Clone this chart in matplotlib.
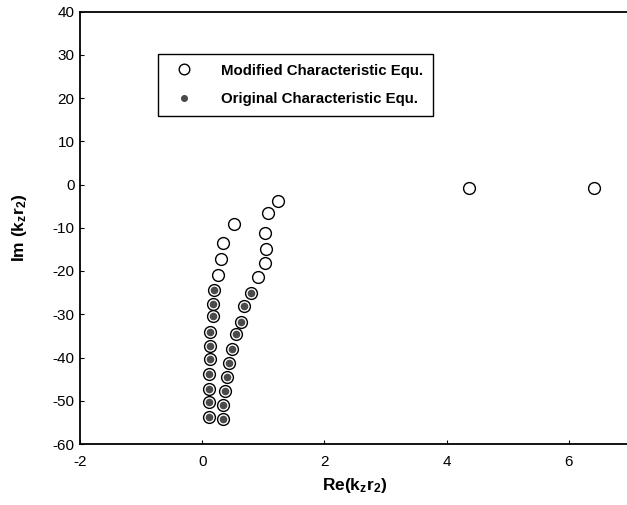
import matplotlib
matplotlib.use("Agg")
import matplotlib.pyplot as plt

plt.rcParams['font.family'] = ['Liberation Sans', 'DejaVu Sans']
plt.rcParams['axes.unicode_minus'] = False
plt.rcParams['mathtext.fontset'] = 'custom'
plt.rcParams['mathtext.rm'] = 'Liberation Sans:bold'
plt.rcParams['mathtext.it'] = 'Liberation Sans:bold'
plt.rcParams['mathtext.bf'] = 'Liberation Sans:bold'

# roots of the modified characteristic equation: two branches plus two isolated roots
re_branch1 = [0.52, 0.34, 0.30, 0.25, 0.20, 0.17, 0.17, 0.13, 0.13, 0.13, 0.11, 0.11, 0.11, 0.11]
im_branch1 = [-9.15, -13.5, -17.2, -21.0, -24.3, -27.6, -30.5, -34.1, -37.4, -40.4, -43.8, -47.3, -50.3, -53.8]
re_branch2 = [1.24, 1.08, 1.02, 1.05, 1.02, 0.91, 0.79, 0.68, 0.63, 0.55, 0.48, 0.44, 0.41, 0.38, 0.34, 0.34]
im_branch2 = [-3.9, -6.6, -11.1, -14.9, -18.2, -21.4, -25.0, -28.0, -31.7, -34.6, -38.0, -41.3, -44.4, -47.7, -51.0, -54.2]
re_isolated = [4.36, 6.41]
im_isolated = [-0.8, -0.8]

# the original equation only finds the deeper roots of each branch
first_orig1 = 4
first_orig2 = 6

re_mod = re_branch1 + re_branch2 + re_isolated
im_mod = im_branch1 + im_branch2 + im_isolated
re_orig = re_branch1[first_orig1:] + re_branch2[first_orig2:]
im_orig = im_branch1[first_orig1:] + im_branch2[first_orig2:]

fig = plt.figure(figsize=(6.27, 5.05), dpi=100)
ax = fig.add_axes([80 / 627, 61 / 505, 550 / 627, 432.5 / 505])

ax.plot(re_mod, im_mod, linestyle='none', marker='o', markersize=8.5,
        markerfacecolor='white', markeredgecolor='black', markeredgewidth=1.0,
        label='Modified Characteristic Equ.')
ax.plot(re_orig, im_orig, linestyle='none', marker='o', markersize=4.5,
        markerfacecolor='#4a4a4a', markeredgecolor='#4a4a4a',
        label='Original Characteristic Equ.')

ax.set_xlim(-2, 7)
ax.set_ylim(-60, 40)
ax.set_xticks([-2, 0, 2, 4, 6])
ax.set_yticks(range(-60, 41, 10))

for side in ['left', 'bottom', 'top', 'right']:
    ax.spines[side].set_linewidth(1.3)
ax.tick_params(direction='in', length=3, width=0.8, labelsize=11)
ax.tick_params(axis='x', pad=8)
ax.tick_params(axis='y', pad=4)

ax.set_xlabel(r'Re(k$_z$r$_2$)', fontsize=12.5, fontweight='bold', labelpad=5)
ax.set_ylabel(r'Im (k$_z$r$_2$)', fontsize=12.5, fontweight='bold', labelpad=17)

leg = ax.legend(loc='upper left', bbox_to_anchor=(0.142, 0.902), borderaxespad=0,
                fancybox=False, edgecolor='black', framealpha=1,
                prop={'weight': 'bold', 'size': 10.8}, handlelength=2.2,
                handletextpad=1.35, borderpad=0.65, labelspacing=0.95,
                markerscale=0.9)
leg.get_frame().set_linewidth(1.0)

fig.savefig('out.png', dpi=100)
